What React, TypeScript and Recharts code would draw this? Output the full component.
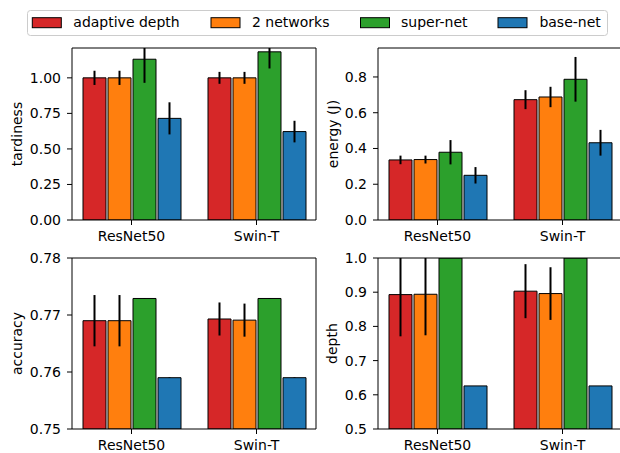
import React from 'react';
import { BarChart, Bar, XAxis, YAxis, ErrorBar } from 'recharts';

const categories = ['ResNet50', 'Swin-T'];
const seriesNames = ['adaptive depth', '2 networks', 'super-net', 'base-net'];
const seriesColors = ['#d62728', '#ff7f0e', '#2ca02c', '#1f77b4'];

// tardiness
const tardAdaptive = [1.0, 1.0];
const tardAdaptiveErr = [0.05, 0.042];
const tardTwo = [1.0, 1.0];
const tardTwoErr = [0.05, 0.042];
const tardSuper = [1.131, 1.183];
const tardSuperErr = [0.166, 0.117];
const tardBase = [0.715, 0.622];
const tardBaseErr = [0.113, 0.076];
const tardTicks = [0, 0.25, 0.5, 0.75, 1.0];

// energy
const enAdaptive = [0.336, 0.673];
const enAdaptiveErr = [0.024, 0.053];
const enTwo = [0.338, 0.688];
const enTwoErr = [0.022, 0.057];
const enSuper = [0.379, 0.787];
const enSuperErr = [0.068, 0.125];
const enBase = [0.25, 0.432];
const enBaseErr = [0.046, 0.072];
const enTicks = [0, 0.2, 0.4, 0.6, 0.8];

// accuracy
const accAdaptive = [0.769, 0.7693];
const accAdaptiveErr = [0.0045, 0.0029];
const accTwo = [0.769, 0.7691];
const accTwoErr = [0.0045, 0.0029];
const accSuper = [0.7729, 0.7729];
const accSuperErr = [0.00005, 0.00005];
const accBase = [0.759, 0.759];
const accBaseErr = [0.00005, 0.00005];
const accTicks = [0.75, 0.76, 0.77, 0.78];

// depth
const depAdaptive = [0.893, 0.903];
const depAdaptiveErr = [0.122, 0.079];
const depTwo = [0.894, 0.896];
const depTwoErr = [0.12, 0.077];
const depSuper = [1.0, 1.0];
const depSuperErr = [0, 0];
const depBase = [0.626, 0.626];
const depBaseErr = [0, 0];
const depTicks = [0.5, 0.6, 0.7, 0.8, 0.9, 1.0];

// error bars are clipped at the top of the axes (like matplotlib's clipping)
function buildRows(vals: number[][], errs: number[][], yMax: number) {
  return categories.map((name, i) => {
    const row: any = { name };
    vals.forEach((v, s) => {
      const e = errs[s][i];
      row['s' + s] = v[i];
      row['e' + s] = [e, Math.max(0, Math.min(e, yMax - v[i]))];
    });
    return row;
  });
}

const FONT = 'DejaVu Sans';
const FS = 14;

type PanelProps = {
  left: number;
  top: number;
  height: number;
  bottomMargin: number;
  xAxisHeight: number;
  rows: any[];
  ylabel: string;
  domain: [number, number];
  ticks: number[];
  digits: number;
  labelOffset: number;
};

function Panel(p: PanelProps) {
  return (
    <div style={{ position: 'absolute', left: p.left, top: p.top }}>
      <BarChart
        width={320}
        height={p.height}
        data={p.rows}
        margin={{ top: 7, right: 3, bottom: p.bottomMargin, left: 0 }}
        barGap={2}
        barSize={23}
      >
        <XAxis
          dataKey="name"
          height={p.xAxisHeight}
          padding={{ left: -3, right: -3 }}
          stroke="#000"
          tickSize={5}
          tickMargin={6}
          tick={{ fill: '#000', fontSize: FS, fontFamily: FONT }}
        />
        <XAxis xAxisId="top" dataKey="name" orientation="top" height={1} tick={false} tickLine={false} stroke="#000" />
        <YAxis
          width={72}
          domain={p.domain}
          ticks={p.ticks}
          allowDataOverflow
          type="number"
          stroke="#000"
          tickSize={5}
          tickMargin={6}
          interval={0}
          tickFormatter={(v: number) => v.toFixed(p.digits)}
          tick={{ fill: '#000', fontSize: FS, fontFamily: FONT }}
          label={{
            value: p.ylabel,
            angle: -90,
            position: 'insideLeft',
            offset: p.labelOffset,
            style: { textAnchor: 'middle', fill: '#000', fontSize: FS, fontFamily: FONT },
          }}
        />
        <YAxis yAxisId="right" orientation="right" width={1} tick={false} tickLine={false} stroke="#000" />
        {seriesNames.map((n, s) => (
          <Bar
            key={n}
            dataKey={'s' + s}
            name={n}
            fill={seriesColors[s]}
            stroke="#000"
            strokeWidth={1}
            isAnimationActive={false}
          >
            <ErrorBar dataKey={'e' + s} width={0} stroke="#000" strokeWidth={2} isAnimationActive={false} />
          </Bar>
        ))}
      </BarChart>
    </div>
  );
}

const legendHandleX = [32.3, 211, 360.5, 498];
const legendTextX = [73.3, 252, 401, 539.4];

export default function App() {
  const tardRows = buildRows(
    [tardAdaptive, tardTwo, tardSuper, tardBase],
    [tardAdaptiveErr, tardTwoErr, tardSuperErr, tardBaseErr],
    1.21
  );
  const enRows = buildRows(
    [enAdaptive, enTwo, enSuper, enBase],
    [enAdaptiveErr, enTwoErr, enSuperErr, enBaseErr],
    0.962
  );
  const accRows = buildRows(
    [accAdaptive, accTwo, accSuper, accBase],
    [accAdaptiveErr, accTwoErr, accSuperErr, accBaseErr],
    0.78
  );
  const depRows = buildRows(
    [depAdaptive, depTwo, depSuper, depBase],
    [depAdaptiveErr, depTwoErr, depSuperErr, depBaseErr],
    1.0
  );
  return (
    <div
      style={{
        position: 'absolute',
        left: 0,
        top: 0,
        width: 620,
        height: 453,
        overflow: 'hidden',
        background: '#fff',
        fontFamily: FONT,
      }}
    >
      <Panel left={0} top={40} height={210} bottomMargin={10} xAxisHeight={20} rows={tardRows} ylabel="tardiness" domain={[0, 1.21]} ticks={tardTicks} digits={2} labelOffset={17} />
      <Panel left={306} top={40} height={210} bottomMargin={10} xAxisHeight={20} rows={enRows} ylabel="energy (J)" domain={[0, 0.962]} ticks={enTicks} digits={1} labelOffset={26.7} />
      <Panel left={0} top={250} height={203} bottomMargin={3} xAxisHeight={21} rows={accRows} ylabel="accuracy" domain={[0.75, 0.78]} ticks={accTicks} digits={2} labelOffset={17} />
      <Panel left={306} top={250} height={203} bottomMargin={3} xAxisHeight={21} rows={depRows} ylabel="depth" domain={[0.5, 1.0]} ticks={depTicks} digits={1} labelOffset={25.7} />
      <svg width={620} height={45} style={{ position: 'absolute', left: 0, top: 0 }}>
        <rect x={27.5} y={10.5} width={580} height={25} rx={3} ry={3} fill="#fff" stroke="#cccccc" strokeWidth={1} />
        {seriesNames.map((n, s) => (
          <g key={n}>
            <rect x={legendHandleX[s]} y={17.7} width={29} height={10} fill={seriesColors[s]} stroke="#000" strokeWidth={1} />
            <text x={legendTextX[s]} y={27} fontSize={FS} fontFamily={FONT} fill="#000">
              {n}
            </text>
          </g>
        ))}
      </svg>
    </div>
  );
}
